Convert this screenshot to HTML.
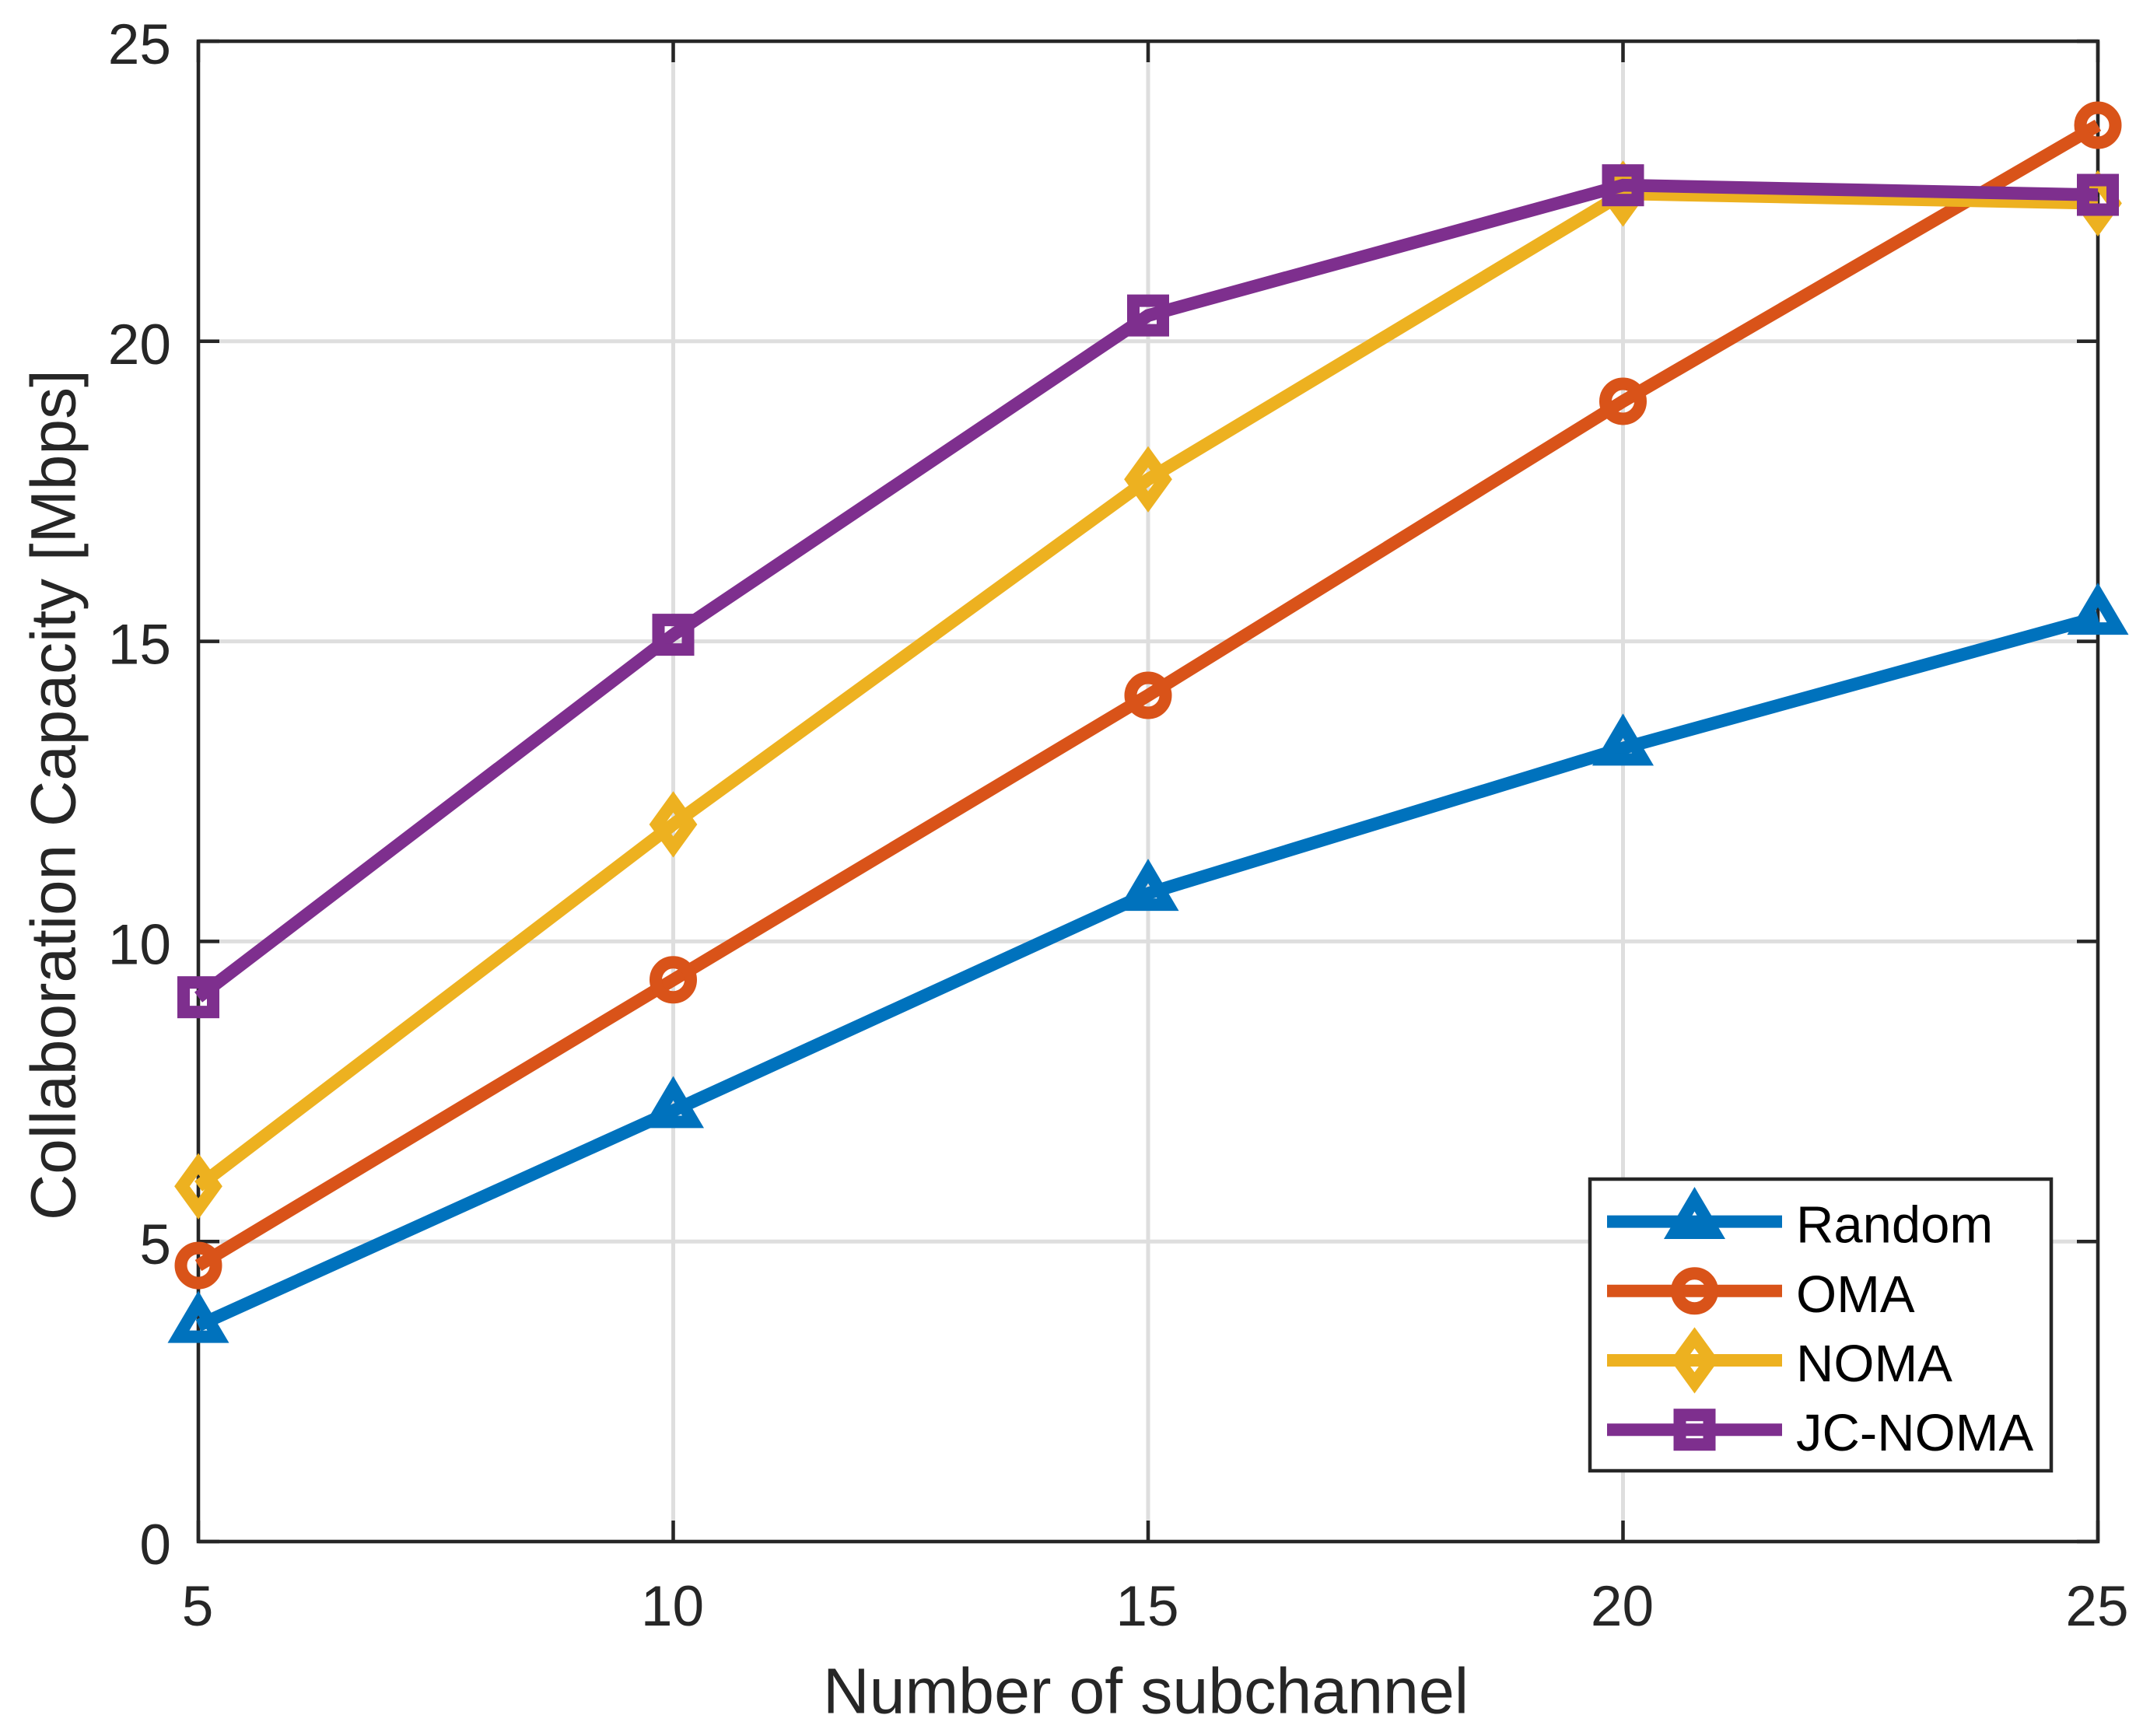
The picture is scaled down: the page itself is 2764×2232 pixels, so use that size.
<!DOCTYPE html>
<html>
<head>
<meta charset="utf-8">
<title>Collaboration Capacity vs Number of subchannel</title>
<style>
html,body{margin:0;padding:0;background:#fff;}
svg{display:block;}
text{font-family:"Liberation Sans",sans-serif;}
</style>
</head>
<body>
<svg id="chart" xmlns="http://www.w3.org/2000/svg" width="2764" height="2232" viewBox="0 0 2764 2232"></svg>
<script>
const categories = [5, 10, 15, 20, 25];
const xTickLabels = ["5", "10", "15", "20", "25"];
const yTickValues = [0, 5, 10, 15, 20, 25];
const yTickLabels = ["0", "5", "10", "15", "20", "25"];
const randomValues = [3.6, 7.18, 10.8, 13.22, 15.4];
const omaValues = [4.6, 9.36, 14.1, 19.0, 23.6];
const nomaValues = [5.92, 11.95, 17.7, 22.46, 22.3];
const jcNomaValues = [9.07, 15.11, 20.43, 22.6, 22.44];
const seriesNames = ["Random", "OMA", "NOMA", "JC-NOMA"];
const xTitle = "Number of subchannel";
const yTitle = "Collaboration Capacity [Mbps]";

const seriesValues = [randomValues, omaValues, nomaValues, jcNomaValues];
const seriesColors = ["#0072bd", "#d95319", "#edb120", "#7e2f8e"];
const seriesMarkers = ["triangle", "circle", "diamond", "square"];

const svg = document.getElementById("chart");
const NS = "http://www.w3.org/2000/svg";
const plotL = 255, plotR = 2697, plotT = 53, plotB = 1982;
const INK = "#262626", GRID = "#dedede";
const xScale = v => plotL + (v - 5) / (25 - 5) * (plotR - plotL);
const yScale = v => plotB - v / 25 * (plotB - plotT);

function mk(tag, parent) {
  const el = document.createElementNS(NS, tag);
  parent.appendChild(el);
  return el;
}
function line(parent, x1, y1, x2, y2, color, w) {
  const l = mk("line", parent);
  l.setAttribute("x1", x1);
  l.setAttribute("y1", y1);
  l.setAttribute("x2", x2);
  l.setAttribute("y2", y2);
  l.setAttribute("stroke", color);
  l.setAttribute("stroke-width", w);
  return l;
}
function label(parent, str, x, y, size, anchor, color) {
  const t = mk("text", parent);
  t.setAttribute("x", x);
  t.setAttribute("y", y);
  t.setAttribute("font-size", size);
  t.setAttribute("text-anchor", anchor);
  t.setAttribute("fill", color);
  t.setAttribute("style", "font-kerning:none");
  t.textContent = str;
  return t;
}
function marker(parent, kind, cx, cy, color) {
  let m;
  if (kind === "circle") {
    m = mk("circle", parent);
    m.setAttribute("cx", cx);
    m.setAttribute("cy", cy);
    m.setAttribute("r", 22.5);
  } else if (kind === "square") {
    m = mk("rect", parent);
    m.setAttribute("x", cx - 19);
    m.setAttribute("y", cy - 19);
    m.setAttribute("width", 38);
    m.setAttribute("height", 38);
  } else {
    m = mk("polygon", parent);
    const pts = kind === "triangle"
      ? [[0, -28.8], [25.5, 14.4], [-25.5, 14.4]]
      : [[0, -29], [21, 0], [0, 29], [-21, 0]];
    m.setAttribute("points", pts.map(p => (cx + p[0]) + "," + (cy + p[1])).join(" "));
  }
  m.setAttribute("fill", "none");
  m.setAttribute("stroke", color);
  m.setAttribute("stroke-width", 16);
  m.setAttribute("stroke-linejoin", "miter");
  m.setAttribute("stroke-miterlimit", 10);
  return m;
}

/* background */
const bg = mk("rect", svg);
bg.setAttribute("x", 0);
bg.setAttribute("y", 0);
bg.setAttribute("width", 2764);
bg.setAttribute("height", 2232);
bg.setAttribute("fill", "#ffffff");



/* grid */
const gridGroup = mk("g", svg);


categories.forEach(v => {
  const g = line(gridGroup, xScale(v), plotT, xScale(v), plotB, GRID, 5);
  
  
});
yTickValues.forEach(v => {
  const g = line(gridGroup, plotL, yScale(v), plotR, yScale(v), GRID, 5);
  
  
});

/* ticks */
const tickGroup = mk("g", svg);


categories.forEach(v => {
  const a = line(tickGroup, xScale(v), plotB, xScale(v), plotB - 27, INK, 4.5);
  
  
  const b = line(tickGroup, xScale(v), plotT, xScale(v), plotT + 27, INK, 4.5);
  
  
});
yTickValues.forEach(v => {
  const a = line(tickGroup, plotL, yScale(v), plotL + 27, yScale(v), INK, 4.5);
  
  
  const b = line(tickGroup, plotR, yScale(v), plotR - 27, yScale(v), INK, 4.5);
  
  
});

/* axes box */
const box = mk("rect", svg);
box.setAttribute("x", plotL);
box.setAttribute("y", plotT);
box.setAttribute("width", plotR - plotL);
box.setAttribute("height", plotB - plotT);
box.setAttribute("fill", "none");
box.setAttribute("stroke", INK);
box.setAttribute("stroke-width", 4.5);



/* tick labels */
categories.forEach((v, i) => {
  const t = label(svg, xTickLabels[i], xScale(v) - 1, 2090, 73, "middle", INK);
  
  
});
yTickValues.forEach((v, i) => {
  const t = label(svg, yTickLabels[i], 220, yScale(v) + 29, 73, "end", INK);
  
  
});

/* axis titles */
const xt = label(svg, xTitle, 1058, 2202.7, 82.5, "start", INK);


const yt = label(svg, yTitle, 0, 0, 82, "start", INK);
yt.setAttribute("transform", "translate(96.7 1569) rotate(-90)");



/* series */
seriesValues.forEach((vals, s) => {
  const g = mk("g", svg);
  
  
  const p = mk("polyline", g);
  p.setAttribute("points", vals.map((v, i) => xScale(categories[i]) + "," + yScale(v)).join(" "));
  p.setAttribute("fill", "none");
  p.setAttribute("stroke", seriesColors[s]);
  p.setAttribute("stroke-width", 16.5);
  p.setAttribute("stroke-linejoin", "miter");
  
  
  vals.forEach((v, i) => {
    const m = marker(g, seriesMarkers[s], xScale(categories[i]), yScale(v), seriesColors[s]);
    
    
  });
});

/* legend */
const legend = mk("g", svg);


const legendBox = mk("rect", legend);
legendBox.setAttribute("x", 2044);
legendBox.setAttribute("y", 1516);
legendBox.setAttribute("width", 593);
legendBox.setAttribute("height", 375);
legendBox.setAttribute("fill", "#ffffff");
legendBox.setAttribute("stroke", INK);
legendBox.setAttribute("stroke-width", 4.5);


seriesNames.forEach((name, s) => {
  const rowY = 1570.6 + s * 89.2;
  const entry = mk("g", legend);
  
  
  const l = line(entry, 2066, rowY, 2291, rowY, seriesColors[s], 16);
  
  
  const m = marker(entry, seriesMarkers[s], 2178.5, rowY, seriesColors[s]);
  
  
  const t = label(entry, name, 2309, rowY + 27, 67, "start", "#000000");
  
  
});
</script>
</body>
</html>
